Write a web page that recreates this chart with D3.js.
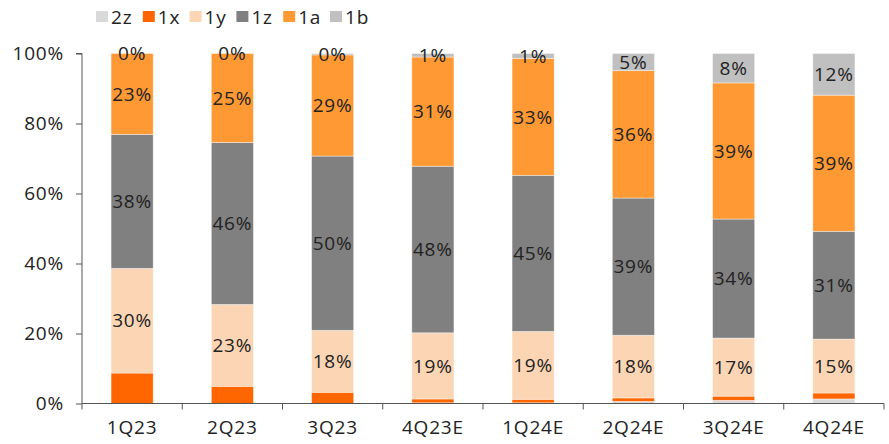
<!DOCTYPE html>
<html lang="en">
<head>
  <meta charset="UTF-8">
  <script src="https://d3js.org/d3.v7.min.js"></script>
  <style>
    body { margin: 0; background: #fff; }
    text { font-family: "Open Sans", sans-serif; fill: #222; letter-spacing: 0.8px; }
  </style>
</head>
<body>
  <svg id="chart" width="889" height="444"></svg>
  <script>
    var quarters = ['1Q23', '2Q23', '3Q23', '4Q23E', '1Q24E', '2Q24E', '3Q24E', '4Q24E'];
    var seriesNames = ['2z', '1x', '1y', '1z', '1a', '1b'];
    var colors = ['#d9d9d9', '#ff6600', '#fcd5b4', '#808080', '#ff9933', '#c0c0c0'];
    // shares in %, one array per series
    var v2z = [0, 0, 0, 0.2, 0.2, 0.6, 0.9, 1.3];
    var v1x = [8.7, 4.9, 3.2, 1.1, 1.0, 1.0, 1.2, 1.7];
    var v1y = [29.9, 23.4, 17.7, 18.9, 19.4, 17.9, 16.6, 15.4];
    var v1z = [38.3, 46.3, 49.8, 47.6, 44.6, 39.2, 34.0, 30.8];
    var v1a = [23.1, 25.4, 28.9, 31.2, 33.4, 36.4, 38.9, 38.9];
    var v1b = [0, 0, 0.4, 1.0, 1.4, 4.9, 8.4, 11.9];
    var yTicks = [0, 20, 40, 60, 80, 100];
    var labelled = ['1y', '1z', '1a', '1b'];

    var values = [v2z, v1x, v1y, v1z, v1a, v1b];
    var rows = quarters.map(function(q, i) {
      var r = { q: q };
      seriesNames.forEach(function(s, j) { r[s] = values[j][i]; });
      return r;
    });

    var svg = d3.select('#chart');
    var x = d3.scaleBand().domain(quarters).range([82, 884]).paddingInner(0.58).paddingOuter(0.29);
    var y = d3.scaleLinear().domain([0, 100]).range([403.5, 53.5]);
    var color = d3.scaleOrdinal().domain(seriesNames).range(colors);

    var stacked = d3.stack().keys(seriesNames)(rows);

    var layers = svg.selectAll('g.layer').data(stacked).enter().append('g')
      .attr('class', 'layer').attr('fill', function(d) { return color(d.key); });
    layers.selectAll('rect').data(function(d) { return d; }).enter().append('rect')
      .attr('x', function(d) { return x(d.data.q); })
      .attr('width', x.bandwidth())
      .attr('y', function(d) { return y(d[1]); })
      .attr('height', function(d) { return y(d[0]) - y(d[1]); })
      .attr('stroke', '#ffffff').attr('stroke-opacity', 0.5).attr('stroke-width', 0.8);

    // value labels
    stacked.filter(function(s) { return labelled.indexOf(s.key) >= 0; }).forEach(function(s) {
      svg.append('g').selectAll('text').data(s).enter().append('text')
        .attr('x', function(d) { return x(d.data.q) + x.bandwidth() / 2; })
        .attr('y', function(d) { return y((d[0] + d[1]) / 2); })
        .attr('dy', '0.35em')
        .attr('text-anchor', 'middle')
        .style('font-size', '19px')
        .text(function(d) { return Math.round(d[1] - d[0]) + '%'; });
    });

    // y axis
    var yAxis = svg.append('g').attr('transform', 'translate(82,0)')
      .call(d3.axisLeft(y).tickValues(yTicks).tickSize(6).tickPadding(12)
        .tickFormat(function(d) { return d + '%'; }));
    yAxis.select('.domain').attr('stroke', '#555').attr('d', 'M-6,53.5H0V403.5');
    yAxis.selectAll('.tick line').attr('stroke', '#555');
    yAxis.selectAll('text').style('font-size', '19px').attr('fill', '#222');

    // x axis with ticks at category boundaries
    var xg = svg.append('g').attr('transform', 'translate(0,403.5)');
    xg.append('line').attr('x1', 82).attr('x2', 884).attr('stroke', '#555');
    var step = x.step();
    xg.selectAll('line.tk').data(d3.range(quarters.length + 1)).enter().append('line')
      .attr('class', 'tk')
      .attr('x1', function(i) { return 82 + i * step; })
      .attr('x2', function(i) { return 82 + i * step; })
      .attr('y1', 0).attr('y2', 6).attr('stroke', '#555');
    xg.selectAll('text').data(quarters).enter().append('text')
      .attr('x', function(d) { return x(d) + x.bandwidth() / 2; })
      .attr('y', 30)
      .attr('text-anchor', 'middle')
      .style('font-size', '19px')
      .text(function(d) { return d; });

    // legend
    var leg = svg.append('g').selectAll('g').data(seriesNames).enter().append('g')
      .attr('transform', function(d, i) { return 'translate(' + (96 + i * 46.8) + ',11)'; });
    leg.append('rect').attr('width', 12).attr('height', 11).attr('fill', function(d) { return color(d); });
    leg.append('text').attr('x', 15).attr('y', 6).attr('dy', '0.35em')
      .style('font-size', '19px').text(function(d) { return d; });
  </script>
</body>
</html>
